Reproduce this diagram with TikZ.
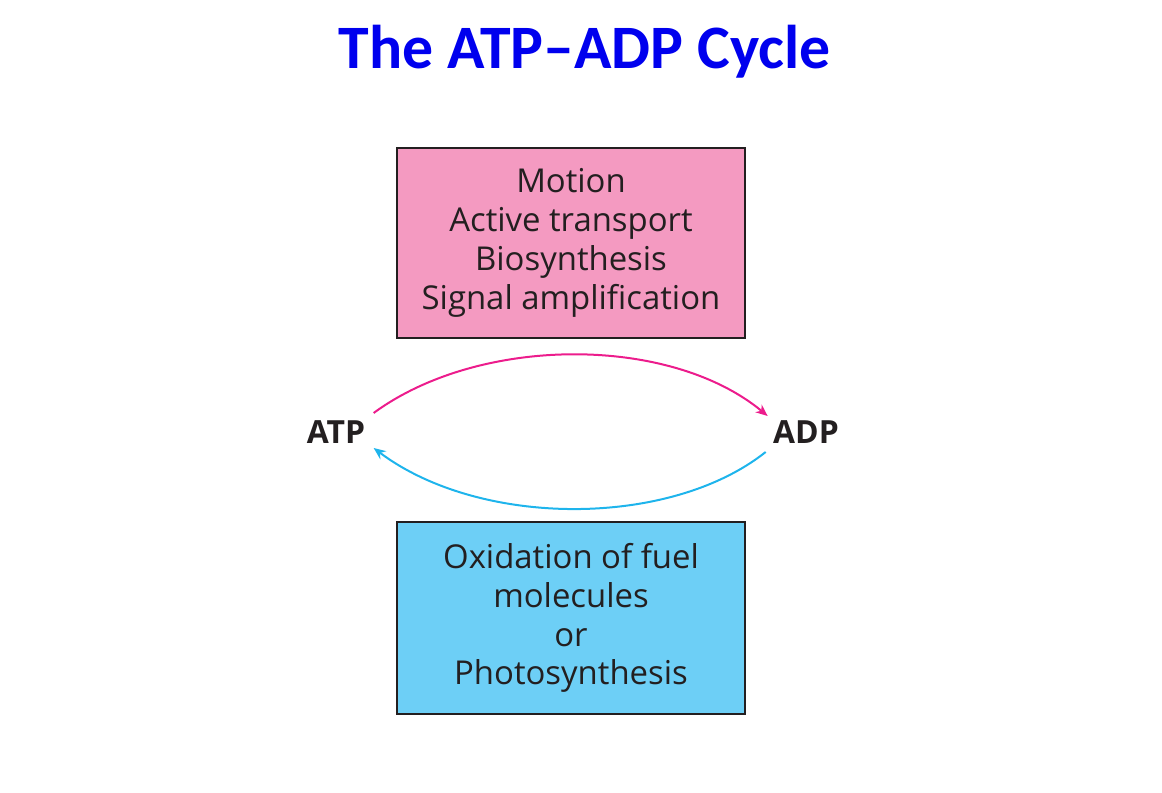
\documentclass[tikz,border=0pt]{standalone}
\usepackage{fontspec}
\setmainfont{Carlito}
\newfontfamily\boxfont{Open Sans}
\usetikzlibrary{arrows.meta,calc}
\definecolor{pinkbox}{HTML}{F49AC1}
\definecolor{bluebox}{HTML}{6DCFF6}
\definecolor{pinkarr}{HTML}{EC1C8C}
\definecolor{bluearr}{HTML}{1EB4EC}
\definecolor{txt}{HTML}{231F20}
\begin{document}
\begin{tikzpicture}[x=1bp,y=-1bp,
  box/.style={draw=txt,line width=1.5bp,minimum width=348bp,align=center,font=\boxfont\fontsize{33}{39}\selectfont,text=txt,inner sep=0},
  mol/.style={font=\boxfont\bfseries\fontsize{32}{36}\selectfont,text=txt},
  arr/.style={line width=2bp,-{Stealth[length=12bp,width=10bp,open]}}]
\useasboundingbox (0,0) rectangle (1162,793);
\node[font=\bfseries\fontsize{62}{66}\selectfont,text={rgb,255:red,0;green,0;blue,238}] (title) at (585,52) {The ATP--ADP Cycle};
\node[box,fill=pinkbox,minimum height=190bp] (top) at (571,243) {Motion\\Active transport\\Biosynthesis\\Signal amplification};
\node[box,fill=bluebox,minimum height=192bp] (bot) at (571,618) {Oxidation of fuel\\molecules\\or\\Photosynthesis};
\node[mol] (atp) at (336,432) {ATP};
\node[mol] (adp) at (806,432) {ADP};
\draw[arr,pinkarr] ($(atp.east)+(5,-19)$) .. controls (480,335) and (670,335) .. ($(adp.west)+(-2,-16)$);
\draw[arr,bluearr] ($(adp.west)+(-4,20)$) .. controls (670,528) and (480,528) .. ($(atp.east)+(5,16)$);
\end{tikzpicture}
\end{document}
